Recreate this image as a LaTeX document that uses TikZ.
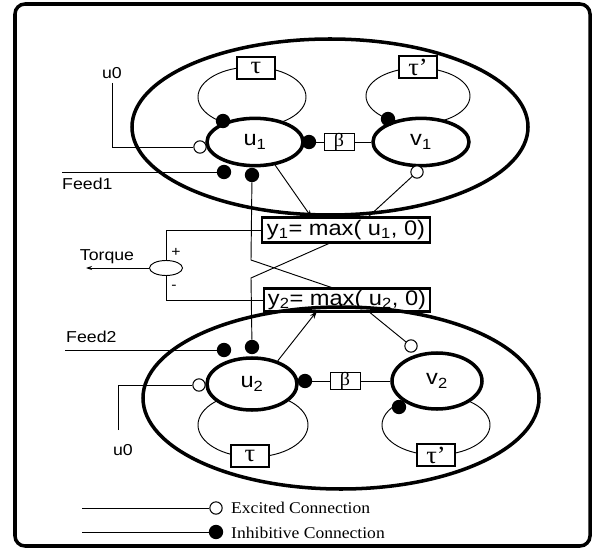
\documentclass[tikz,border=0pt]{standalone}
\usepackage{fontspec}
\setmainfont[FakeStretch=1.12]{Liberation Sans}
\newfontfamily\timesfont[FakeStretch=1.07]{Liberation Serif}
\usepackage{tikz}
\usetikzlibrary{arrows.meta,shapes.geometric}
\tikzset{
  cell/.style={ellipse,draw,line width=3pt,inner sep=0pt},
  neuron/.style={ellipse,draw,fill=white,line width=3pt,inner sep=0pt,minimum width=28.8mm,minimum height=14.2mm,font=\fontsize{18}{20}\selectfont},
  loopring/.style={ellipse,draw,line width=0.8pt,inner sep=0pt},
  inh/.style={circle,fill=black,inner sep=0pt,minimum size=4.3mm},
  exc/.style={circle,draw,fill=white,line width=0.9pt,inner sep=0pt,minimum size=3.7mm},
  taubox/.style={rectangle,draw,fill=white,line width=1.6pt,minimum width=11.4mm,minimum height=6.6mm,inner sep=0pt,font=\timesfont\fontsize{21}{22}\selectfont},
  betabox/.style={rectangle,draw,fill=white,line width=0.8pt,minimum width=9mm,minimum height=5.1mm,inner sep=0pt,font=\timesfont\fontsize{16}{16}\selectfont},
  ybox/.style={rectangle,draw,fill=white,line width=2.5pt,inner sep=0pt,font=\fontsize{18}{20}\selectfont},
  lbl/.style={inner sep=0pt,font=\fontsize{13.5}{16}\selectfont},
  legend/.style={inner sep=0pt,anchor=west,font=\timesfont\fontsize{14}{16}\selectfont},
  wire/.style={line width=0.8pt},
  arr/.style={wire,-{Stealth[length=2.4mm,width=1.6mm]}}
}
\begin{document}
\begin{tikzpicture}[x=0.3mm,y=-0.3mm]
\useasboundingbox (0,0) rectangle (595,550);
\draw[line width=3pt,rounded corners=3mm] (15,4) rectangle (590,546);

% upper oscillator
\node[cell,minimum width=118.8mm,minimum height=52.8mm] (cell1) at (330,127) {};
\node[loopring,minimum width=32.4mm,minimum height=18mm] (loopu1) at (252,97) {};
\node[loopring,minimum width=31.2mm,minimum height=16.8mm] (loopv1) at (418,96) {};
\node[taubox] (tau1) at (256,68) {τ};
\node[taubox] (taup1) at (418,67) {τ’};
\node[neuron] (u1) at (255,142) {u\textsubscript{1}};
\node[neuron] (v1) at (421,142) {v\textsubscript{1}};
\node[betabox] (beta1) at (339,142) {β};

\node[inh] (lu1) at (223,121) {};
\node[inh] (lv1) at (388,119) {};
\node[inh] (bu1) at (309,142) {};
\node[inh] (fu1) at (224,172) {};
\node[inh] (ou1) at (252,175) {};
\node[exc] (eu1) at (200,147) {};
\node[exc] (ev1) at (417,172) {};

\node[lbl] (u0a) at (112,73) {u0};
\coordinate (s1) at (112,83);
\draw[wire] (s1) |- (eu1);
\coordinate (f1) at (62,172);
\draw[wire] (f1) -- (fu1);
\node[lbl,anchor=west] (feed1) at (62,184) {Feed1};
\draw[wire] (bu1) -- (beta1) -- (v1);

% outputs and torque
\node[ybox,minimum width=50.4mm,minimum height=7.5mm] (y1) at (346,230) {y\textsubscript{1}= max( u\textsubscript{1}, 0)};
\node[ybox,minimum width=49.8mm,minimum height=6.9mm] (y2) at (347,300) {y\textsubscript{2}= max( u\textsubscript{2}, 0)};

\coordinate (a1) at (312,218);
\draw[arr] (u1.-49) -- (a1);
\coordinate (c1) at (367,218);
\draw[wire] (ev1) -- (c1);
\coordinate (k1) at (251,260);
\coordinate (k2) at (333,288);
\draw[wire] (ou1) -- (k1) -- (k2);

\node[ellipse,draw,wire,minimum width=9.9mm,minimum height=4.5mm,inner sep=0pt] (sum) at (166,268) {};
\draw[wire] (y1) -| (sum);
\draw[wire] (y2) -| (sum);
\coordinate (tq) at (86,268);
\draw[wire,-{Stealth[length=1.8mm,width=1.2mm]}] (sum) -- (tq);
\node[lbl] (torque) at (107,257) {Torque};
\node[lbl,font=\fontsize{12}{14}\selectfont] (plus) at (176,252) {+};
\node[lbl,font=\fontsize{12}{14}\selectfont] (minus) at (174,287) {-};

% lower oscillator
\node[cell,minimum width=118.8mm,minimum height=54.6mm] (cell2) at (341,398) {};
\node[loopring,minimum width=33mm,minimum height=19.2mm] (loopu2) at (253,425) {};
\node[loopring,minimum width=32.4mm,minimum height=18mm] (loopv2) at (436,425) {};
\node[taubox] (tau2) at (250,456) {τ};
\node[taubox] (taup2) at (436,455) {τ’};
\node[neuron,minimum width=27mm,minimum height=15.6mm] (u2) at (252,384) {u\textsubscript{2}};
\node[neuron,minimum width=27mm,minimum height=16.8mm] (v2) at (437,381) {v\textsubscript{2}};
\node[betabox] (beta2) at (345,381) {β};

\node[inh] (fu2) at (224,350) {};
\node[inh] (ou2) at (252,347) {};
\node[inh] (bu2) at (305,381) {};
\node[inh] (lv2) at (399,407) {};
\node[exc] (eu2) at (199,385) {};
\node[exc] (ev2) at (411,346) {};

\coordinate (f2) at (65,350);
\draw[wire] (f2) -- (fu2);
\node[lbl,anchor=west] (feed2) at (66,337) {Feed2};
\coordinate (s2) at (118,430);
\draw[wire] (s2) |- (eu2);
\node[lbl] (u0b) at (123,450) {u0};
\draw[wire] (bu2) -- (beta2) -- (v2);

\coordinate (k3) at (251,278);
\coordinate (k4) at (330,243);
\draw[wire] (ou2) -- (k3) -- (k4);
\coordinate (a2) at (317,311);
\draw[arr] (u2.42) -- (a2);
\coordinate (c2) at (368,311);
\draw[wire] (c2) -- (ev2);

% legend
\coordinate (lga) at (82,508);
\node[exc] (lgae) at (216,508) {};
\draw[wire] (lga) -- (lgae);
\node[legend] (lgat) at (231,508) {Excited Connection};
\coordinate (lgb) at (82,532);
\node[inh] (lgbi) at (216,532) {};
\draw[wire] (lgb) -- (lgbi);
\node[legend] (lgbt) at (231,533) {Inhibitive Connection};
\end{tikzpicture}
\end{document}
